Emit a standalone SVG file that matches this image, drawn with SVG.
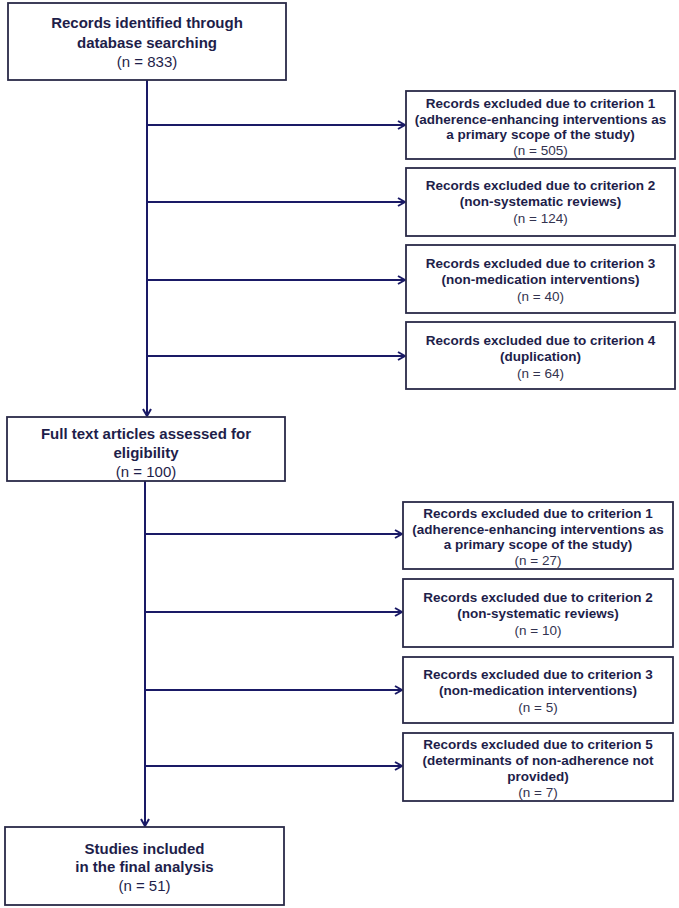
<svg xmlns="http://www.w3.org/2000/svg" width="679" height="908" viewBox="0 0 679 908">
<style>
.box{fill:#fff;stroke:#2a2a48;stroke-width:1.8}
.t{font-family:"Liberation Sans",Arial,sans-serif;fill:#1e1e4a;text-anchor:middle}
.b15{font-size:15px;font-weight:bold}
.r15{font-size:15px}
.b13{font-size:13.5px;font-weight:bold}
.r13{font-size:13.5px;fill:#33334f}
.ln{stroke:#1a1a66;stroke-width:2;fill:none}
</style>
<defs>
<marker id="ah" viewBox="0 0 10 10" refX="9" refY="5" markerWidth="10" markerHeight="10" markerUnits="userSpaceOnUse" orient="auto">
<path d="M2,1 L9,5 L2,9" fill="none" stroke="#1a1a66" stroke-width="2"/>
</marker>
</defs>
<rect width="679" height="908" fill="#fff"/>
<g id="connectors">
<line class="ln" x1="147" y1="80" x2="147" y2="416" marker-end="url(#ah)"/>
<line class="ln" x1="147" y1="125" x2="405" y2="125" marker-end="url(#ah)"/>
<line class="ln" x1="147" y1="202" x2="405" y2="202" marker-end="url(#ah)"/>
<line class="ln" x1="147" y1="280" x2="405" y2="280" marker-end="url(#ah)"/>
<line class="ln" x1="147" y1="356" x2="405" y2="356" marker-end="url(#ah)"/>
<line class="ln" x1="145" y1="481" x2="145" y2="826" marker-end="url(#ah)"/>
<line class="ln" x1="145" y1="534" x2="402" y2="534" marker-end="url(#ah)"/>
<line class="ln" x1="145" y1="612" x2="402" y2="612" marker-end="url(#ah)"/>
<line class="ln" x1="145" y1="690" x2="402" y2="690" marker-end="url(#ah)"/>
<line class="ln" x1="145" y1="766" x2="402" y2="766" marker-end="url(#ah)"/>
</g>
<g id="n_identified">
<rect class="box" x="8" y="3" width="278" height="77"/>
<text class="t b15" x="147" y="28">Records identified through</text>
<text class="t b15" x="147" y="48">database searching</text>
<text class="t r15" x="147" y="67">(n = 833)</text>
</g>
<g id="n_ex1a">
<rect class="box" x="406" y="91" width="269" height="68"/>
<text class="t b13" x="540.5" y="108">Records excluded due to criterion 1</text>
<text class="t b13" x="540.5" y="123.5">(adherence-enhancing interventions as</text>
<text class="t b13" x="540.5" y="139">a primary scope of the study)</text>
<text class="t r13" x="540.5" y="155">(n = 505)</text>
</g>
<g id="n_ex2a">
<rect class="box" x="406" y="168" width="269" height="68"/>
<text class="t b13" x="540.5" y="190">Records excluded due to criterion 2</text>
<text class="t b13" x="540.5" y="206">(non-systematic reviews)</text>
<text class="t r13" x="540.5" y="223">(n = 124)</text>
</g>
<g id="n_ex3a">
<rect class="box" x="406" y="245" width="269" height="68"/>
<text class="t b13" x="540.5" y="268">Records excluded due to criterion 3</text>
<text class="t b13" x="540.5" y="284">(non-medication interventions)</text>
<text class="t r13" x="540.5" y="301">(n = 40)</text>
</g>
<g id="n_ex4a">
<rect class="box" x="406" y="322" width="269" height="67"/>
<text class="t b13" x="540.5" y="345">Records excluded due to criterion 4</text>
<text class="t b13" x="540.5" y="361">(duplication)</text>
<text class="t r13" x="540.5" y="378">(n = 64)</text>
</g>
<g id="n_fulltext">
<rect class="box" x="7" y="417" width="278" height="64"/>
<text class="t b15" x="146" y="439">Full text articles assessed for</text>
<text class="t b15" x="146" y="458">eligibility</text>
<text class="t r15" x="146" y="477">(n = 100)</text>
</g>
<g id="n_ex1b">
<rect class="box" x="403" y="502" width="270" height="67"/>
<text class="t b13" x="538" y="518">Records excluded due to criterion 1</text>
<text class="t b13" x="538" y="533.5">(adherence-enhancing interventions as</text>
<text class="t b13" x="538" y="549">a primary scope of the study)</text>
<text class="t r13" x="538" y="565">(n = 27)</text>
</g>
<g id="n_ex2b">
<rect class="box" x="403" y="579" width="270" height="68"/>
<text class="t b13" x="538" y="602">Records excluded due to criterion 2</text>
<text class="t b13" x="538" y="618">(non-systematic reviews)</text>
<text class="t r13" x="538" y="635">(n = 10)</text>
</g>
<g id="n_ex3b">
<rect class="box" x="403" y="657" width="270" height="66"/>
<text class="t b13" x="538" y="679">Records excluded due to criterion 3</text>
<text class="t b13" x="538" y="695">(non-medication interventions)</text>
<text class="t r13" x="538" y="712">(n = 5)</text>
</g>
<g id="n_ex5b">
<rect class="box" x="403" y="733" width="270" height="68"/>
<text class="t b13" x="538" y="749">Records excluded due to criterion 5</text>
<text class="t b13" x="538" y="765">(determinants of non-adherence not</text>
<text class="t b13" x="538" y="781">provided)</text>
<text class="t r13" x="538" y="797">(n = 7)</text>
</g>
<g id="n_included">
<rect class="box" x="5" y="827" width="279" height="78"/>
<text class="t b15" x="144.5" y="854">Studies included</text>
<text class="t b15" x="144.5" y="872">in the final analysis</text>
<text class="t r15" x="144.5" y="891">(n = 51)</text>
</g>
</svg>
